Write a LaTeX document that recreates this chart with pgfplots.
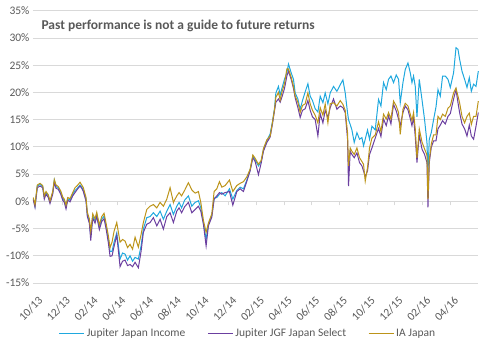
\documentclass[border=0pt]{standalone}
\usepackage{pgfplots}
\pgfplotsset{compat=1.18}
\usepackage{pgfplotstable}
\usepackage{fontspec}
\setmainfont{Carlito}
\definecolor{cInc}{HTML}{1FA8DE}
\definecolor{cSel}{HTML}{6B3FA0}
\definecolor{cIA}{HTML}{BC9419}
\definecolor{cGrid}{HTML}{D9D9D9}
\definecolor{cText}{HTML}{595959}
% px = horizontal position; converted to months since Oct 2013
\pgfplotstableread{
px inc sel ia
33.3 0.5 0.3 0.7
35 -0.9 -1.1 -0.6
37.3 2.8 2.5 3.0
40 3.1 2.8 3.3
42.7 2.7 2.5 2.9
44.3 0.8 0.4 1.0
46 1.6 1.3 1.8
48.3 1.0 0.7 1.2
50 -0.1 -0.4 0.1
52.7 1.6 1.3 1.8
54.3 3.9 3.5 4.0
56 2.7 2.4 3.0
58.3 2.5 2.2 2.7
60.7 1.7 1.3 1.9
62.7 0.5 0.2 0.8
64.3 0.1 -0.2 0.4
66 -1.0 -1.4 -0.7
67.7 0.5 0.2 0.7
70 0.2 -0.1 0.5
72.7 1.3 1.0 1.6
75 2.0 1.6 2.5
77.3 2.4 2.2 2.9
80 3.0 2.8 3.5
81.7 2.6 2.4 3.0
83.3 2.0 1.8 2.5
86 0.4 0.0 0.7
87.3 -2.4 -2.8 -2.0
89.3 -3.6 -4.0 -3.2
90.7 -6.3 -7.2 -5.5
92.7 -2.7 -3.1 -2.3
95 -3.6 -4.0 -3.2
96.7 -2.4 -2.8 -2.0
99.3 -4.8 -5.2 -4.3
101.7 -3.3 -3.7 -2.8
104 -2.7 -3.2 -2.2
106 -4.5 -5.0 -4.0
108.3 -7.0 -7.6 -6.3
110 -9.2 -10.1 -8.5
112 -9.2 -10.0 -7.5
114 -7.5 -8.3 -5.5
116.7 -5.8 -6.2 -3.9
120 -10.6 -12.0 -7.5
122.5 -9.5 -11.0 -7.0
125 -9.7 -10.8 -7.3
127.5 -10.8 -11.8 -8.5
130 -10.0 -11.6 -7.9
132.5 -11.0 -12.0 -8.8
135 -10.3 -11.2 -6.6
138.3 -10.6 -12.2 -8.4
141 -8.2 -9.2 -6.1
143.3 -5.1 -5.7 -3.9
146.7 -3.0 -4.2 -1.5
150 -2.8 -3.9 -0.9
153.3 -2.1 -3.0 -0.6
156.7 -2.8 -4.5 -1.2
160 -1.8 -3.3 -0.2
163.3 -3.3 -5.1 -0.9
166.7 -1.8 -2.8 0.4
170 -0.6 -2.1 2.5
173.3 -2.4 -3.9 -0.2
176.7 -0.9 -1.8 1.0
179 -0.2 -1.2 1.6
181.5 -1.2 -2.1 1.0
184.5 0.2 -1.0 2.0
188.3 1.0 -0.2 3.4
191.7 -0.9 -2.1 2.1
195 -0.2 -1.5 1.5
198.3 0.1 -0.9 1.8
200.7 -1.2 -1.8 -0.2
203.3 -4.0 -4.2 -3.5
206 -7.0 -8.2 -5.7
208.3 -4.2 -4.5 -4.0
211.7 -2.6 -2.9 -2.3
214 0.6 0.4 1.8
216.7 0.7 1.0 2.3
219.3 1.3 1.6 3.6
221.7 1.6 1.3 2.6
225 1.0 1.6 2.9
229.3 2.3 1.8 3.9
232.7 0.4 -0.7 1.8
236.7 2.0 1.8 2.9
240 2.6 2.3 3.3
243.3 2.3 1.8 3.6
246.7 3.9 3.7 4.5
250 5.8 5.6 5.9
252.7 8.3 8.0 8.5
255 7.6 7.3 7.9
258.3 6.5 4.9 6.8
261 7.3 7.0 7.5
263.3 9.5 9.2 9.7
266.7 11.1 10.8 11.3
270 12.4 11.8 12.0
272.3 14.6 14.2 14.5
274.3 17.0 16.6 16.8
275.7 19.9 18.2 19.1
278.3 21.1 18.8 20.0
280 19.5 18.2 18.6
281.7 20.7 19.1 20.0
284.3 22.4 20.7 21.6
286.7 23.6 23.0 24.3
288.3 25.2 23.9 24.3
291 23.6 22.4 22.8
293.3 22.4 20.7 21.1
295 19.9 19.0 19.3
297.7 18.8 17.2 18.2
300 16.9 15.4 16.3
302.3 18.5 16.7 17.6
305 20.1 17.0 17.9
307.7 21.6 18.5 19.9
310 19.3 16.7 17.9
312.3 18.5 15.5 16.7
315 17.0 15.0 15.8
317.7 16.4 12.0 14.4
320 19.3 16.1 17.2
322.7 18.1 14.4 15.8
325 19.9 16.7 17.9
327.7 17.9 15.4 14.4
330 19.9 17.2 17.9
333.3 21.1 18.8 18.1
336.7 20.2 16.9 17.5
340 21.4 17.5 18.5
342.7 22.3 17.2 17.8
345 19.9 16.3 16.7
347.3 16.3 11.5 12.6
348.3 15.0 2.8 6.5
350 14.1 9.2 9.8
351.7 13.1 8.6 9.2
354 10.8 8.0 8.6
356.7 12.6 8.9 9.8
359.3 11.4 7.1 8.0
361.7 11.7 6.5 7.3
363.3 10.2 5.6 6.8
365 11.4 4.5 3.7
367.3 13.1 5.6 6.2
369.3 11.4 8.6 9.8
371.7 13.8 9.8 11.6
375 13.1 11.6 12.2
378.3 18.7 13.4 14.6
380.7 17.5 11.9 12.8
383.3 21.8 15.1 16.0
386 20.5 13.9 15.1
388.3 22.4 15.7 16.3
390.7 23.0 14.2 15.1
393.3 21.8 17.8 18.4
396 23.2 16.6 17.5
398.3 22.4 15.1 16.3
400 18.1 13.9 12.3
402.7 21.8 16.3 16.9
405 24.2 17.5 18.0
407.7 25.4 16.8 17.5
410 23.6 15.2 16.0
411.7 21.8 13.9 14.8
413.3 23.0 15.4 16.3
415 21.1 11.9 13.3
416.7 15.5 7.1 8.0
419 22.4 12.2 13.3
421.7 18.7 9.6 10.9
424.3 15.0 8.6 9.6
426.7 10.8 7.1 8.5
427.7 5.3 -1.1 0.4
429 11.4 7.1 7.6
431 12.6 9.9 10.5
433.3 15.0 11.1 12.2
435.7 17.3 11.1 12.2
437.7 20.5 13.3 15.6
440 19.3 14.0 15.0
442.3 23.0 14.8 16.0
445 23.0 14.2 15.6
447.7 22.4 15.6 17.1
450 20.9 16.1 17.5
453.3 23.6 18.8 19.9
455.7 28.2 20.5 20.8
457.7 27.9 18.1 19.3
459.3 26.1 16.3 18.1
461.7 23.9 14.2 15.6
464.3 22.4 13.3 14.4
466.7 20.9 12.0 15.6
469 22.7 14.0 16.2
471 20.2 12.0 14.1
473.3 21.5 11.4 15.6
475.7 21.1 13.8 15.6
478 23.9 16.3 18.4
}\perfdata
\begin{document}
\begin{tikzpicture}
\begin{axis}[
  scale only axis,
  width=445pt, height=272.3pt,
  xmin=-0.108, xmax=32,
  ymin=-15, ymax=35,
  x filter/.expression={(x-34.5)/13.85},
  ytick={-15,-10,...,35},
  xtick={0,2,...,30},
  xticklabels={10/13,12/13,02/14,04/14,06/14,08/14,10/14,12/14,02/15,04/15,06/15,08/15,10/15,12/15,02/16,04/16},
  /pgf/number format/assume math mode=true,
  yticklabel={\pgfmathprintnumber{\tick}\%},
  axis x line*=middle,
  axis y line*=left,
  y axis line style={draw=none},
  x axis line style={draw=cGrid, line width=0.75pt},
  ytick style={draw=none},
  xtick style={draw=cGrid, line width=0.75pt},
  xtick align=outside,
  major tick length=4pt,
  ymajorgrids,
  grid style={draw=cGrid, line width=0.75pt},
  tick label style={font=\fontsize{11.5}{13}\selectfont, text=cText},
  x tick label style={yshift=-89pt, xshift=3pt, rotate=45, anchor=north east, inner sep=1pt},
  legend style={at={(0.483,-0.184)}, anchor=center, draw=none, fill=none,
    legend columns=3, font=\fontsize{11.5}{13}\selectfont, text=cText,
    /tikz/every even column/.append style={column sep=20pt}},
  legend image code/.code={\draw[#1, line width=1.1pt] (0pt,0pt) -- (25pt,0pt);},
  clip=false,
]
\addplot[cInc, line width=1pt] table[x=px, y=inc] {\perfdata};
\addlegendentry{Jupiter Japan Income}
\addplot[cSel, line width=1pt] table[x=px, y=sel] {\perfdata};
\addlegendentry{Jupiter JGF Japan Select}
\addplot[cIA, line width=1pt] table[x=px, y=ia] {\perfdata};
\addlegendentry{IA Japan}
\node[anchor=base west, font=\fontsize{13.5}{15}\selectfont\bfseries, text=cText]
  at (rel axis cs:0.0112,0.9317) {Past performance is not a guide to future returns};
\end{axis}
\pgfresetboundingbox
\path[use as bounding box] (current axis.south west) ++(-33pt,-69pt) rectangle ++(494pt,352pt);
\end{tikzpicture}
\end{document}
